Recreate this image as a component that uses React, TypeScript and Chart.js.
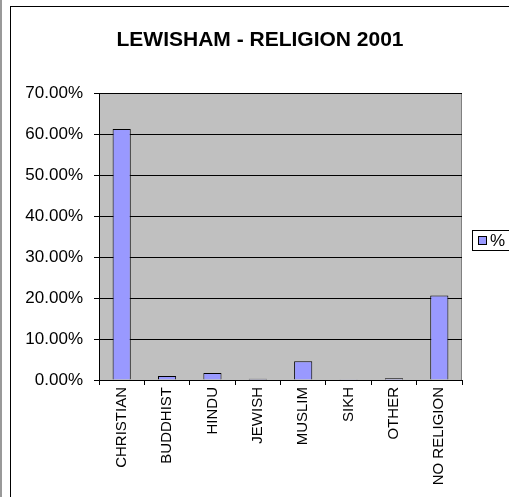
import React, { useEffect, useRef } from "react";
import { Chart, registerables } from "chart.js";
Chart.register(...registerables);

const categories = ["CHRISTIAN", "BUDDHIST", "HINDU", "JEWISH", "MUSLIM", "SIKH", "OTHER", "NO RELIGION"];
const percentValues = [61.2, 1.0, 1.7, 0.3, 4.6, 0.2, 0.4, 20.6];
const seriesName = "%";
const chartTitle = "LEWISHAM - RELIGION 2001";

const FONT = "Arial, 'Liberation Sans', sans-serif";

const decorPlugin = {
  id: "decor",
  beforeDraw(chart: any) {
    const { ctx, chartArea } = chart;
    ctx.save();
    ctx.fillStyle = "#C0C0C0";
    ctx.fillRect(chartArea.left, chartArea.top, chartArea.right - chartArea.left, chartArea.bottom - chartArea.top);
    ctx.strokeStyle = "#808080";
    ctx.lineWidth = 1;
    ctx.strokeRect(chartArea.left + 0.5, chartArea.top + 0.5, chartArea.right - chartArea.left - 1, chartArea.bottom - chartArea.top);
    ctx.restore();
  },
  afterDraw(chart: any) {
    const { ctx } = chart;
    ctx.save();
    // title
    ctx.fillStyle = "#000";
    ctx.font = `bold 21px ${FONT}`;
    ctx.textAlign = "center";
    ctx.textBaseline = "middle";
    ctx.fillText(chartTitle, 260, 40);
    // legend
    ctx.strokeStyle = "#000";
    ctx.lineWidth = 1;
    ctx.fillStyle = "#fff";
    ctx.fillRect(472.5, 230.5, 45, 20);
    ctx.strokeRect(472.5, 230.5, 45, 20);
    ctx.fillStyle = "#9999FF";
    ctx.fillRect(478.5, 236.5, 8, 8);
    ctx.strokeRect(478.5, 236.5, 8, 8);
    ctx.fillStyle = "#000";
    ctx.font = `17px ${FONT}`;
    ctx.textAlign = "left";
    ctx.fillText(seriesName, 490, 241);
    ctx.restore();
  },
};

export default function App() {
  const ref = useRef<HTMLCanvasElement>(null);
  useEffect(() => {
    if (!ref.current) return;
    const chart = new Chart(ref.current, {
      type: "bar",
      data: {
        labels: categories,
        datasets: [
          {
            label: seriesName,
            data: percentValues,
            backgroundColor: "#9999FF",
            borderColor: "#000000",
            borderWidth: 1,
            barPercentage: 0.4,
            categoryPercentage: 1,
          },
        ],
      },
      plugins: [decorPlugin],
      options: {
        animation: false,
        responsive: false,
        devicePixelRatio: 1,
        layout: { padding: { left: 10, top: 93, right: 47, bottom: 0 } },
        plugins: { legend: { display: false }, title: { display: false }, tooltip: { enabled: false } },
        scales: {
          y: {
            min: 0,
            max: 70,
            ticks: {
              stepSize: 10,
              color: "#000",
              font: { family: FONT, size: 17 },
              padding: 11,
              callback: (v: any) => Number(v).toFixed(2) + "%",
            },
            grid: { color: "#000", lineWidth: 1, tickLength: 5, drawOnChartArea: true },
            border: { color: "#000", width: 1 },
            afterFit: (s: any) => { s.width = 89; },
          },
          x: {
            ticks: {
              color: "#000",
              font: { family: FONT, size: 15 },
              minRotation: 90,
              maxRotation: 90,
              autoSkip: false,
              padding: 2,
            },
            grid: { color: "#000", drawOnChartArea: false, tickLength: 5, offset: true },
            border: { color: "#000", width: 1 },
            afterFit: (s: any) => { s.height = 117; },
          },
        },
      },
    });
    return () => chart.destroy();
  }, []);
  return (
    <div style={{ position: "absolute", left: 0, top: 0, width: 509, height: 497, background: "#fff", overflow: "hidden" }}>
      <div style={{ position: "absolute", left: 0, top: 0, width: 2, height: 497, background: "#999" }} />
      <div style={{ position: "absolute", left: 10, top: 6, width: 520, height: 520, borderLeft: "1px solid #000", borderTop: "1px solid #000" }} />
      <canvas ref={ref} width={509} height={497} style={{ position: "absolute", left: 0, top: 0 }} />
    </div>
  );
}
